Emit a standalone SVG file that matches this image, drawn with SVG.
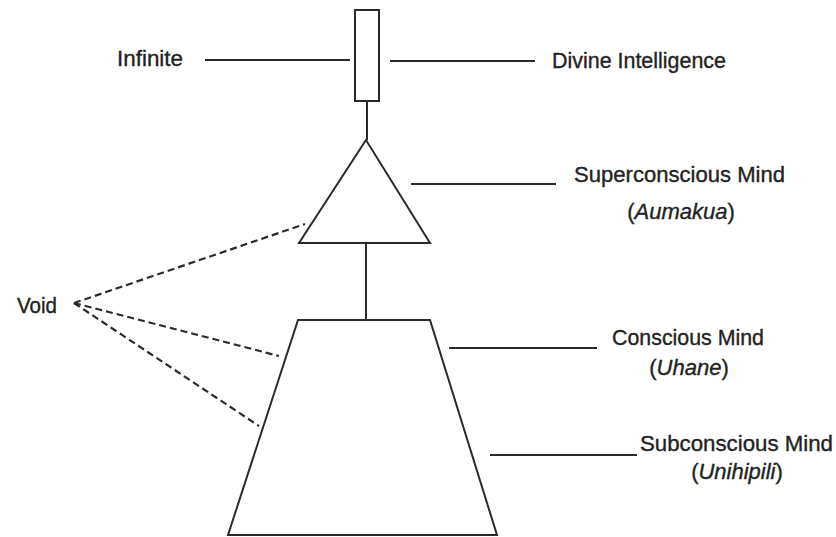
<svg xmlns="http://www.w3.org/2000/svg" width="836" height="537" viewBox="0 0 836 537">
<style>
.s{fill:#fff;stroke:#2a2a2a;stroke-width:2}
.c{stroke:#2a2a2a;stroke-width:2;fill:none}
.d{stroke:#2a2a2a;stroke-width:2.2;fill:none;stroke-dasharray:7 4}
text{font-family:"Liberation Sans",Arial,sans-serif;font-size:22px;fill:#222;stroke:#222;stroke-width:0.35}
.m{text-anchor:middle}
.i{font-style:italic}
</style>
<rect width="836" height="537" fill="#fff"/>
<g id="connectors">
<line class="c" x1="205" y1="60" x2="350" y2="60"/>
<line class="c" x1="390" y1="61" x2="535" y2="61"/>
<line class="c" x1="367" y1="101" x2="367" y2="140"/>
<line class="c" x1="366" y1="243" x2="366" y2="320"/>
<line class="c" x1="411" y1="184" x2="556" y2="184"/>
<line class="c" x1="449" y1="348" x2="597" y2="348"/>
<line class="c" x1="490" y1="455" x2="637" y2="455"/>
<line class="d" x1="74" y1="303" x2="305" y2="224"/>
<line class="d" x1="74" y1="303" x2="279" y2="356"/>
<line class="d" x1="74" y1="303" x2="259" y2="426"/>
</g>
<g id="infinite-box"><rect class="s" x="355" y="10" width="24" height="91"/></g>
<g id="superconscious"><polygon class="s" points="366,140 299,243 430,243"/></g>
<g id="conscious"><polygon class="s" points="298,320 430,320 497,535 228,535"/></g>
<g id="labels">
<text x="117" y="66" textLength="66" lengthAdjust="spacingAndGlyphs">Infinite</text>
<text x="552" y="68" textLength="174" lengthAdjust="spacingAndGlyphs">Divine Intelligence</text>
<text x="574" y="182" textLength="211" lengthAdjust="spacingAndGlyphs">Superconscious Mind</text>
<text class="m" x="681" y="219" font-size="21">(<tspan class="i">Aumakua</tspan>)</text>
<text x="612" y="345" textLength="152" lengthAdjust="spacingAndGlyphs">Conscious Mind</text>
<text class="m" x="689" y="375" font-size="21">(<tspan class="i">Uhane</tspan>)</text>
<text x="640" y="451" textLength="193" lengthAdjust="spacingAndGlyphs">Subconscious Mind</text>
<text class="m" x="737" y="479" font-size="21">(<tspan class="i">Unihipili</tspan>)</text>
<text x="17" y="313" textLength="40" lengthAdjust="spacingAndGlyphs">Void</text>
</g>
</svg>
